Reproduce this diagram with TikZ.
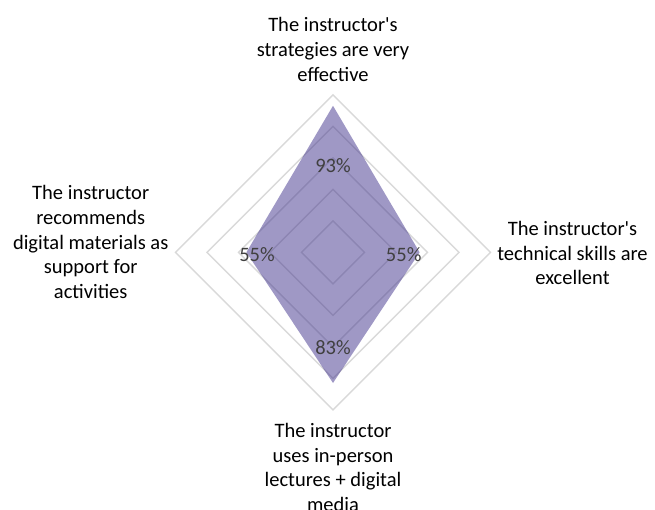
\documentclass[tikz,border=0pt]{standalone}
\usepackage{fontspec}
\setmainfont{Carlito}[Ligatures=TeXOff]
\definecolor{gridgrey}{HTML}{D9D9D9}
\definecolor{seriesfill}{RGB}{64,50,140}
\definecolor{valgrey}{HTML}{404040}
\begin{document}
\begin{tikzpicture}[x=1pt,y=-1pt,
  gridline/.style={draw=gridgrey,line width=1.4pt},
  series/.style={fill=seriesfill,fill opacity=0.5,draw=none},
  catlabel/.style={align=center,inner sep=0pt,font=\fontsize{20.5}{24.7}\selectfont,text=black},
  vallabel/.style={inner sep=0pt,font=\fontsize{20.5}{24.7}\selectfont,text=valgrey}]
\useasboundingbox (0,0) rectangle (655,510);
\coordinate (O) at (333,252.3);
\foreach \r in {0.2,0.4,0.6,0.8,1.0}{
  \pgfmathsetmacro{\rr}{\r*157.5}
  \draw[gridline] (O) ++(0,-\rr) -- ++(\rr,\rr) -- ++(-\rr,\rr) -- ++(-\rr,-\rr) -- cycle;
}
\coordinate (pTop) at (333,105.8);
\coordinate (pRight) at (419.6,252.3);
\coordinate (pBottom) at (333,383.0);
\coordinate (pLeft) at (246.4,252.3);
\path[series] (pTop) -- (pRight) -- (pBottom) -- (pLeft) -- cycle;
\node[vallabel] (vTop) at (333,166) {93\%};
\node[vallabel] (vRight) at (403.7,255) {55\%};
\node[vallabel] (vBottom) at (333,348) {83\%};
\node[vallabel] (vLeft) at (257,255) {55\%};
\node[catlabel] (cTop) at (333,49.5) {The instructor's\\strategies are very\\effective};
\node[catlabel] (cRight) at (572.5,253) {The instructor's\\technical skills are\\excellent};
\node[catlabel] (cBottom) at (333,467.5) {The instructor\\uses in-person\\lectures + digital\\media};
\node[catlabel] (cLeft) at (90.7,242) {The instructor\\recommends\\digital materials as\\support for\\activities};
\end{tikzpicture}
\end{document}
